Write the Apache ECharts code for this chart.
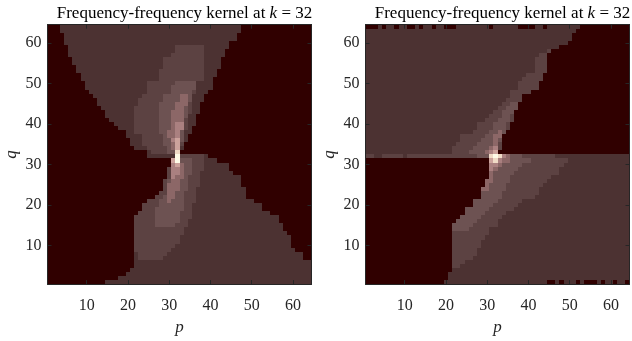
<!DOCTYPE html>
<html>
<head>
<meta charset="utf-8">
<script src="https://cdn.jsdelivr.net/npm/echarts@6/dist/echarts.min.js"></script>
<style>
html, body { margin: 0; padding: 0; background: #fff; }
#chart { width: 632px; height: 341px; }
</style>
</head>
<body>
<div id="chart"></div>
<script>
// p and q both run from 1 to 64
var N = 64;
var titleText = 'Frequency-frequency kernel at {it|k} = 32';

// colour of each level, dark background up to the white peak
var levelColors = ['#300000', '#4c3232', '#5c4242', '#6d5252', '#8c6767',
                   '#aa8080', '#cca29c', '#f0dac6', '#fffbe8'];

// ---- left panel: rows as [q, first p, last p], one list per level ----
var leftL1 = [
    [64, 4, 47], [63, 4, 47], [62, 5, 46], [61, 5, 46], [60, 5, 44], [59, 6, 44],
    [58, 6, 43], [57, 6, 43], [56, 7, 42], [55, 7, 42], [54, 8, 42], [53, 8, 41],
    [52, 9, 41], [51, 9, 40], [50, 10, 40], [49, 10, 40], [48, 11, 39], [47, 12, 38],
    [46, 13, 38], [45, 13, 37], [44, 14, 37], [43, 15, 37], [42, 15, 36], [41, 16, 36],
    [40, 17, 36], [39, 18, 35], [38, 20, 35], [37, 20, 34], [36, 21, 34], [35, 21, 33],
    [34, 22, 33], [33, 25, 32], [32, 25, 39], [31, 31, 41], [30, 31, 44], [29, 30, 44],
    [28, 30, 45], [27, 30, 47], [26, 29, 47], [25, 29, 47], [24, 29, 48], [23, 29, 48],
    [22, 27, 48], [21, 25, 50], [20, 24, 52], [19, 24, 52], [18, 23, 54], [17, 22, 56],
    [16, 22, 56], [15, 22, 57], [14, 22, 57], [13, 22, 58], [12, 22, 59], [11, 22, 59],
    [10, 22, 59], [9, 22, 60], [8, 22, 62], [7, 22, 62], [6, 22, 64], [5, 22, 64],
    [4, 21, 64], [3, 20, 64], [2, 18, 64], [1, 15, 64]
];
var leftL2 = [
    [59, 32, 38], [58, 32, 38], [57, 31, 38], [56, 29, 38], [55, 29, 38], [54, 29, 38],
    [53, 28, 38], [52, 28, 38], [51, 28, 38], [50, 25, 36], [49, 25, 36], [48, 25, 36],
    [47, 24, 35], [46, 23, 35], [45, 23, 35], [44, 22, 35], [43, 22, 35], [42, 22, 34],
    [41, 22, 34], [40, 22, 34], [39, 22, 34], [38, 22, 33], [37, 24, 33], [36, 24, 33],
    [35, 24, 33], [34, 25, 32], [33, 26, 31], [32, 33, 38], [31, 32, 38], [30, 31, 38],
    [29, 30, 38], [28, 30, 37], [27, 30, 37], [26, 29, 37], [25, 29, 37], [24, 29, 36],
    [23, 28, 36], [22, 27, 36], [21, 25, 36], [20, 24, 35], [19, 24, 35], [18, 23, 35],
    [17, 22, 35], [16, 22, 34], [15, 22, 34], [14, 22, 33], [13, 22, 33], [12, 22, 32],
    [11, 22, 32], [10, 22, 31], [9, 22, 30], [8, 23, 29], [7, 23, 28]
];
var leftL3 = [
    [50, 32, 36], [49, 31, 36], [48, 31, 35], [47, 29, 35], [46, 29, 35], [45, 28, 34],
    [44, 28, 34], [43, 28, 34], [42, 28, 34], [41, 28, 33], [40, 28, 33], [39, 28, 33],
    [38, 28, 33], [37, 29, 33], [36, 29, 33], [35, 29, 32], [34, 30, 32], [33, 30, 31],
    [31, 33, 35], [30, 32, 35], [29, 31, 35], [28, 31, 35], [27, 31, 34], [26, 30, 34],
    [25, 30, 34], [24, 30, 34], [23, 30, 33], [22, 29, 33], [21, 28, 33], [20, 28, 33],
    [19, 27, 33], [18, 27, 32], [17, 27, 32], [16, 27, 32], [15, 27, 31]
];
var leftL4 = [
    [47, 33, 34], [46, 33, 34], [45, 32, 34], [44, 32, 33], [43, 31, 33], [42, 31, 33],
    [41, 31, 33], [40, 31, 33], [39, 31, 33], [38, 30, 32], [37, 30, 32], [36, 31, 32],
    [35, 31, 32], [34, 31, 32], [30, 31, 33], [29, 31, 33], [28, 31, 33], [27, 31, 33],
    [26, 31, 32], [25, 30, 32], [24, 30, 32], [23, 30, 31], [22, 30, 31], [21, 30, 30]
];
var leftL5 = [
    [40, 32, 33], [39, 32, 33], [38, 32, 32], [37, 32, 32], [36, 31, 32], [35, 32, 32],
    [34, 32, 32], [30, 32, 32], [29, 31, 32], [28, 31, 32], [27, 31, 31]
];
// single cells as [p, q, level]
var leftCells = [
    [32, 36, 6], [32, 35, 6], [32, 34, 6], [32, 33, 7], [32, 32, 8], [32, 31, 8],
    [31, 31, 6], [32, 30, 6], [31, 30, 5]
];

// ---- right panel ----
var rightL1 = [
    [64, 1, 52], [63, 1, 51], [62, 1, 50], [61, 1, 50], [60, 1, 49], [59, 1, 47],
    [58, 1, 45], [57, 1, 44], [56, 1, 44], [55, 1, 44], [54, 1, 44], [53, 1, 44],
    [52, 1, 43], [51, 1, 43], [50, 1, 42], [49, 1, 42], [48, 1, 40], [47, 1, 38],
    [46, 1, 38], [45, 1, 37], [44, 1, 37], [43, 1, 36], [42, 1, 36], [41, 1, 36],
    [40, 1, 35], [39, 1, 35], [38, 1, 34], [37, 1, 33], [36, 1, 33], [35, 1, 33],
    [34, 1, 33], [33, 1, 32], [32, 1, 64], [31, 32, 64], [30, 31, 64], [29, 31, 64],
    [28, 31, 64], [27, 31, 64], [26, 30, 64], [25, 30, 64], [24, 29, 64], [23, 29, 64],
    [22, 29, 64], [21, 27, 64], [20, 27, 64], [19, 25, 64], [18, 25, 64], [17, 24, 64],
    [16, 23, 64], [15, 22, 64], [14, 22, 64], [13, 22, 64], [12, 22, 64], [11, 22, 64],
    [10, 22, 64], [9, 22, 64], [8, 22, 64], [7, 22, 64], [6, 22, 64], [5, 22, 64],
    [4, 22, 64], [3, 21, 64], [2, 21, 64], [1, 20, 64]
];
var rightL2 = [
    [58, 45, 45], [57, 43, 44], [56, 42, 44], [55, 42, 44], [54, 42, 44], [53, 42, 44],
    [52, 40, 43], [51, 39, 43], [50, 38, 42], [49, 38, 42], [48, 36, 40], [47, 36, 38],
    [46, 35, 38], [45, 34, 37], [44, 33, 37], [43, 32, 36], [42, 31, 36], [41, 30, 36],
    [40, 28, 35], [39, 28, 35], [38, 27, 34], [37, 24, 33], [36, 24, 33], [35, 23, 33],
    [34, 22, 33], [33, 22, 32], [32, 1, 27], [32, 39, 46],
    [31, 32, 49], [30, 31, 48], [29, 31, 47], [28, 31, 47], [27, 31, 45], [26, 30, 44],
    [25, 30, 43], [24, 29, 42], [23, 29, 42], [22, 29, 41], [21, 27, 38], [20, 27, 37],
    [19, 25, 36], [18, 25, 34], [17, 24, 33], [16, 23, 32], [15, 22, 32], [14, 22, 30],
    [13, 22, 30], [12, 22, 29], [11, 22, 28], [10, 22, 28], [9, 22, 27], [8, 22, 27],
    [7, 22, 26], [6, 22, 24], [5, 22, 23]
];
var rightL3 = [
    [45, 36, 37], [44, 35, 37], [43, 34, 36], [42, 34, 35], [41, 33, 35], [40, 32, 34],
    [39, 32, 34], [38, 31, 34], [37, 30, 33], [36, 29, 33], [35, 28, 32], [34, 27, 32],
    [33, 26, 31], [32, 28, 31], [32, 33, 38],
    [31, 32, 40], [30, 31, 38], [29, 31, 37], [28, 31, 36], [27, 31, 35], [26, 30, 35],
    [25, 30, 34], [24, 29, 34], [23, 29, 33], [22, 29, 33], [21, 27, 32], [20, 27, 31],
    [19, 25, 30], [18, 25, 29], [17, 24, 28], [16, 23, 27], [15, 22, 26], [14, 22, 25]
];
var rightL4 = [
    [38, 33, 33], [37, 32, 33], [36, 32, 32], [35, 32, 32], [34, 31, 32], [33, 30, 31],
    [32, 33, 35], [31, 32, 35], [30, 31, 33], [29, 31, 32], [28, 31, 31], [27, 31, 31],
    [26, 30, 31], [25, 30, 30], [24, 29, 30]
];
var rightL5 = [
    [34, 32, 32], [32, 33, 34], [31, 32, 33], [30, 31, 32], [29, 31, 31]
];
var rightCells = [
    [32, 32, 8], [31, 32, 7], [33, 32, 7], [32, 31, 7], [31, 31, 6], [32, 33, 6], [31, 33, 5],
    [3, 32, 1], [4, 32, 1], [10, 32, 1]
];
// dark specks along the top and bottom rows of the right panel
var rightTopSpecks = [1, 2, 3, 5, 8, 11, 12, 14, 17, 20, 21, 22, 31, 38, 39, 40, 41, 44];
var rightBottomSpecks = [45, 46, 48, 52, 54, 55, 56, 58, 61, 64];

function buildData(levels, cells) {
    var g = [];
    for (var q = 0; q < N; q++) {
        g.push([]);
        for (var p = 0; p < N; p++) g[q].push(0);
    }
    levels.forEach(function (rows, k) {
        rows.forEach(function (r) {
            for (var p = r[1]; p <= r[2]; p++) g[r[0] - 1][p - 1] = k + 1;
        });
    });
    cells.forEach(function (c) {
        g[c[1] - 1][c[0] - 1] = c[2];
    });
    var data = [];
    for (var q = 0; q < N; q++) {
        for (var p = 0; p < N; p++) data.push([p + 1, q + 1, g[q][p]]);
    }
    return data;
}

var rightExtra = rightCells.slice();
rightTopSpecks.forEach(function (p) { rightExtra.push([p, 64, 0]); });
rightBottomSpecks.forEach(function (p) { rightExtra.push([p, 1, 0]); });

var leftData = buildData([leftL1, leftL2, leftL3, leftL4, leftL5], leftCells);
var rightData = buildData([rightL1, rightL2, rightL3, rightL4, rightL5], rightExtra);

var axisColor = '#262626';
var serif = 'Liberation Serif';

// value axes from 0.5 to 64.5 so each cell is one unit wide; ticks land on 10..60
function makeAxis(gi, pos, showLabel, name, nameGap, margin) {
    var ax = {
        type: 'value', gridIndex: gi, position: pos, min: 0.5, max: 64.5, splitNumber: 5, z: 10,
        axisLine: { show: true, onZero: false, lineStyle: { color: axisColor, width: 1 } },
        axisTick: { show: true, inside: true, length: 4, lineStyle: { color: axisColor } },
        axisLabel: { show: showLabel, showMinLabel: false, showMaxLabel: false, color: axisColor,
                     fontFamily: serif, fontSize: 16, margin: margin || 8 },
        splitLine: { show: false }, splitArea: { show: false }
    };
    if (name) {
        ax.name = name;
        ax.nameLocation = 'middle';
        ax.nameGap = nameGap;
        ax.nameTextStyle = { fontFamily: serif, fontStyle: 'italic', fontSize: 17, color: axisColor };
    }
    return ax;
}

var xs = [
    makeAxis(0, 'bottom', true, 'p', 31, 14), makeAxis(0, 'top', false),
    makeAxis(1, 'bottom', true, 'p', 31, 14), makeAxis(1, 'top', false)
];
var ys = [
    makeAxis(0, 'left', true, 'q', 27, 6), makeAxis(0, 'right', false),
    makeAxis(1, 'left', true, 'q', 27, 6), makeAxis(1, 'right', false)
];

function makeTitle(cx) {
    return {
        text: titleText, left: cx, top: 0, textAlign: 'center',
        textStyle: { fontFamily: serif, fontSize: 17, fontWeight: 'normal', color: '#000',
                     rich: { it: { fontFamily: serif, fontSize: 17, fontStyle: 'italic', color: '#000' } } }
    };
}

// cell edges snapped to whole pixels, so neighbours share edges and leave no seams
function renderCell(params, api) {
    var p = api.value(0), q = api.value(1);
    var a = api.coord([p - 0.5, q + 0.5]);
    var b = api.coord([p + 0.5, q - 0.5]);
    var x0 = Math.round(a[0]), y0 = Math.round(a[1]);
    var x1 = Math.round(b[0]), y1 = Math.round(b[1]);
    return {
        type: 'rect',
        shape: { x: x0, y: y0, width: x1 - x0, height: y1 - y0 },
        style: { fill: api.visual('color') }
    };
}

var myChart = echarts.init(document.getElementById('chart'), null, { renderer: 'canvas' });
var option = {
    animation: false,
    title: [makeTitle(179.5), makeTitle(497.5)],
    grid: [
        { left: 47.5, top: 24.7, width: 264, height: 264.5 },
        { left: 365.5, top: 24.7, width: 264, height: 264.5 }
    ],
    xAxis: xs,
    yAxis: ys,
    visualMap: {
        type: 'piecewise', show: false, seriesIndex: [0, 1], dimension: 2,
        pieces: levelColors.map(function (c, i) { return { value: i, color: c }; })
    },
    series: [
        { type: 'custom', xAxisIndex: 0, yAxisIndex: 0, data: leftData, renderItem: renderCell,
          clip: false, silent: true, progressive: 0, z: 2 },
        { type: 'custom', xAxisIndex: 2, yAxisIndex: 2, data: rightData, renderItem: renderCell,
          clip: false, silent: true, progressive: 0, z: 2 }
    ]
};
myChart.setOption(option);
</script>
</body>
</html>
